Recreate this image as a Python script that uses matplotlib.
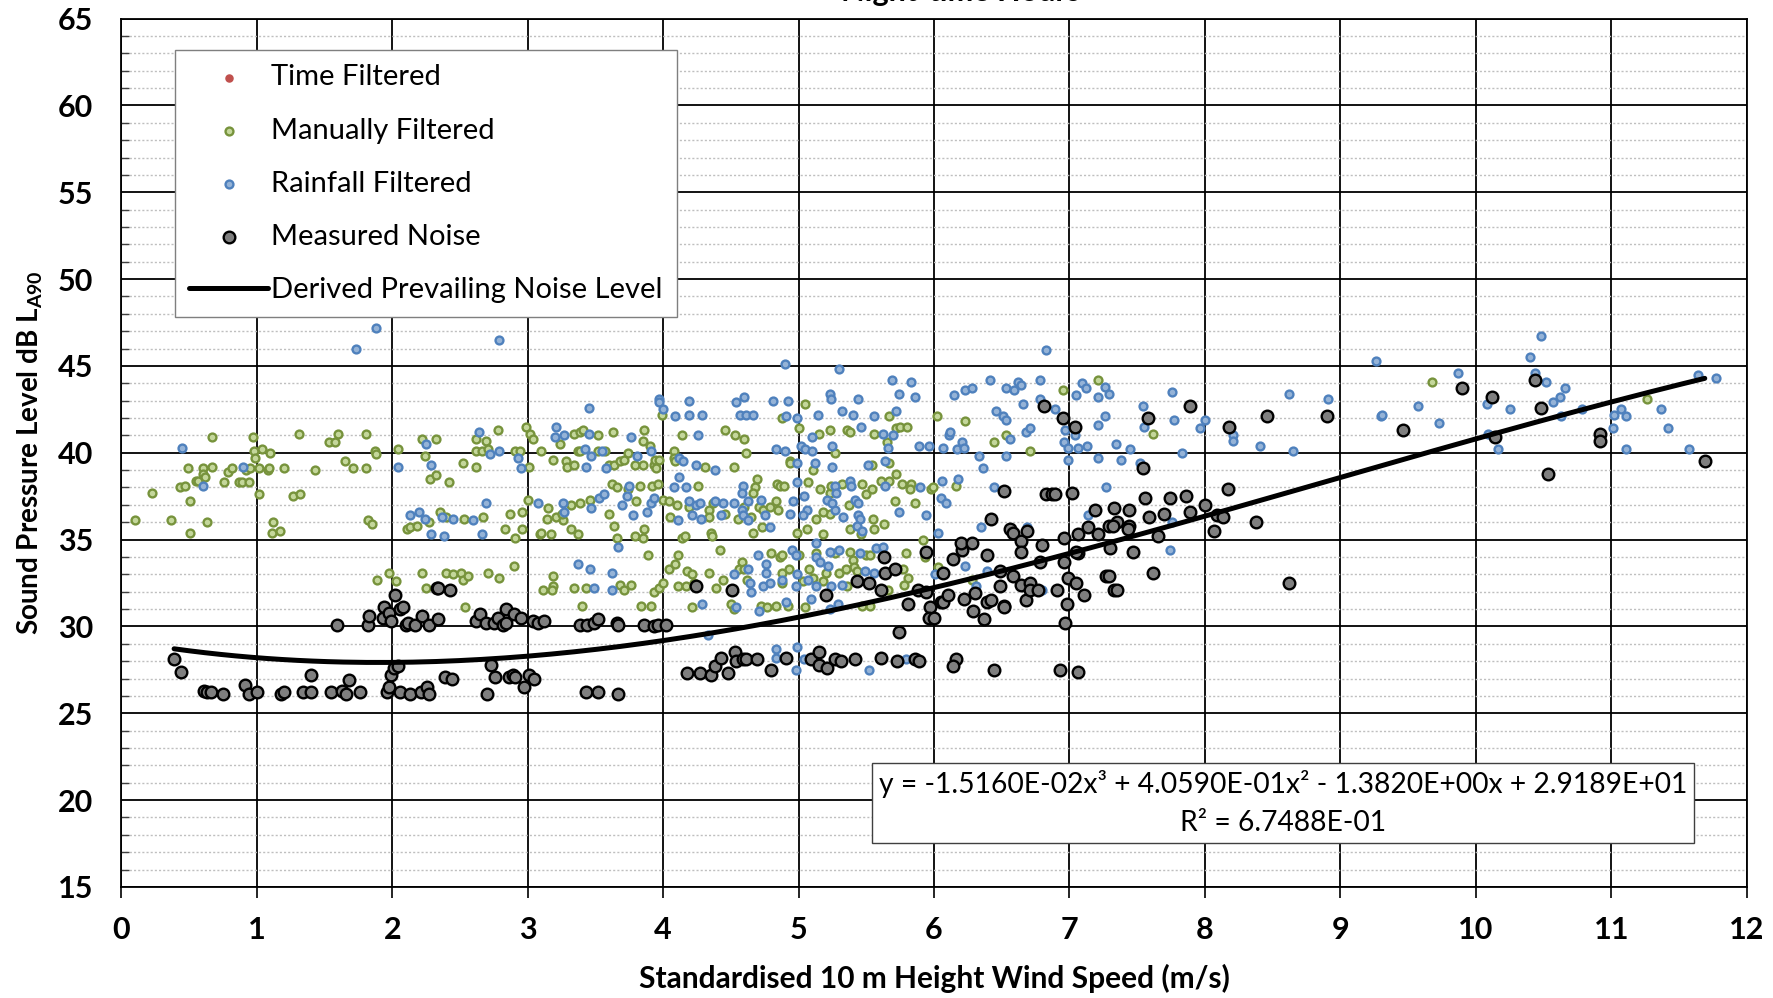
import numpy as np
import matplotlib
matplotlib.use("Agg")
import matplotlib.pyplot as plt
from matplotlib.ticker import MultipleLocator

plt.rcParams["font.family"] = ["Lato", "DejaVu Sans"]
plt.rcParams["mathtext.fontset"] = "custom"
plt.rcParams["mathtext.rm"] = "Lato"
plt.rcParams["mathtext.bf"] = "Lato:bold"

# ---- data ----
manual_x = [
    0.10, 0.23, 0.37, 0.43, 0.47, 0.51, 0.51, 0.49, 0.55, 0.57, 0.60, 0.60, 0.62, 0.63, 0.67, 0.67,
    0.76, 0.79, 0.82, 0.87, 0.89, 0.94, 0.92, 0.95, 0.97, 0.98, 0.99, 1.04, 1.10, 1.02, 1.08, 1.09,
    1.02, 1.12, 1.11, 1.17, 1.20, 1.27, 1.32, 1.31, 1.43, 1.53, 1.58, 1.60, 1.65, 1.71, 1.81, 1.81,
    1.87, 1.88, 1.82, 1.85, 2.04, 2.22, 2.32, 2.24, 2.28, 2.32, 2.42, 2.35, 2.40, 2.11, 2.13, 2.18,
    2.27, 1.89, 1.98, 2.03, 2.22, 2.25, 2.40,
    2.52, 2.62, 2.62, 2.62, 2.69, 2.66, 2.71, 2.78, 2.91, 2.94, 2.99, 3.02, 3.04, 3.01, 3.10, 3.19,
    3.28, 3.29, 3.34, 3.24, 3.34, 3.39, 3.41, 3.37, 3.39, 3.52, 3.52, 3.57, 3.63, 3.60, 3.64, 3.68,
    3.71, 3.74, 3.79, 3.85, 3.86, 3.85, 3.90, 3.93, 3.94, 3.95, 3.97, 3.62, 3.66, 3.74, 3.83, 3.92,
    3.96, 3.80, 3.00, 2.96, 2.87, 2.67, 2.53, 2.83, 2.91, 2.96, 3.09, 3.10, 3.17, 3.15, 3.14, 3.21,
    3.26, 3.25, 3.32, 3.39, 3.46, 3.32, 3.37, 3.60, 3.64, 3.66, 3.79, 3.85, 3.86, 3.89, 2.45, 2.51,
    2.52, 2.56, 2.71, 2.79, 2.90, 2.54, 3.19, 3.19, 3.11, 3.18, 3.34, 3.40, 3.43, 3.68, 3.76, 3.71,
    3.84, 3.91, 3.93, 3.97, 4.00, 4.04, 4.09, 4.11, 4.18, 4.21, 4.21, 4.34, 4.11, 4.17, 4.23, 4.42,
    4.44, 4.39, 4.50, 4.52, 4.58, 4.56, 4.60, 4.62, 4.72, 4.77, 4.83, 4.80, 4.86, 4.08, 4.08, 4.09,
    4.14, 3.99, 4.31, 4.46, 4.53, 4.60, 4.61, 4.52, 4.26, 4.00, 4.04, 4.10, 4.19, 4.05, 4.34, 4.37,
    4.34, 4.35, 4.36, 4.14, 4.16, 4.46, 4.55, 4.60, 4.65, 4.69, 4.68, 4.66, 4.71, 4.74, 4.79, 4.83,
    4.66, 4.73, 4.84,
    5.05, 4.88, 5.00, 5.15, 5.23, 5.36, 5.38, 5.27, 4.94, 4.94, 5.11, 5.56, 5.67, 5.72, 5.75, 5.80,
    5.65, 5.54, 5.67, 6.02, 6.23, 6.44, 6.53, 6.71, 6.95, 7.21, 4.86, 4.89, 4.85, 5.07, 5.16, 5.23,
    5.24, 5.32, 5.47, 5.13, 5.23, 5.18, 4.99, 5.06, 5.18, 5.37, 5.38, 5.50, 5.54, 5.55, 5.56, 5.63,
    5.46, 5.61, 5.67, 5.72, 5.76, 5.83, 5.82, 5.86, 5.71, 5.98, 5.99, 6.16, 5.92, 4.88, 5.00, 5.13,
    5.27, 5.38, 5.50, 5.53, 5.79, 5.93, 5.40, 5.41, 4.88, 4.93, 5.08, 5.20, 5.30, 5.35, 5.43, 5.77,
    5.81, 5.78, 4.88, 5.03, 5.11, 5.18, 5.36, 4.92, 5.05, 5.47, 5.53, 6.03, 6.28, 5.66,
    7.62, 9.68, 11.26,
]
manual_y = [
    36.1, 37.7, 36.1, 38.0, 38.1, 35.4, 37.2, 39.1, 38.4, 38.4, 39.1, 38.8, 38.6, 36.0, 39.2, 40.9,
    38.3, 38.9, 39.1, 38.3, 38.3, 38.3, 39.0, 39.1, 40.9, 40.1, 39.7, 40.2, 40.0, 39.1, 39.0, 39.1,
    37.6, 36.0, 35.4, 35.5, 39.1, 37.5, 37.6, 41.1, 39.0, 40.6, 40.6, 41.1, 39.5, 39.1, 39.1, 41.1,
    40.1, 39.9, 36.1, 35.9, 40.2, 40.8, 40.8, 39.8, 38.5, 38.7, 38.3, 36.6, 36.3, 35.6, 35.7, 35.8,
    36.0, 32.7, 33.1, 32.6, 33.1, 32.2, 33.1,
    39.4, 39.2, 40.1, 40.8, 40.7, 40.1, 40.2, 41.3, 40.1, 40.1, 41.5, 41.1, 40.8, 39.2, 40.1, 39.6,
    39.5, 39.2, 39.3, 40.5, 41.1, 41.2, 41.3, 40.1, 40.1, 41.0, 40.1, 40.1, 41.2, 39.3, 39.3, 39.5,
    39.6, 40.0, 39.3, 39.3, 41.3, 40.7, 40.4, 39.3, 39.6, 39.1, 39.6, 38.2, 38.0, 37.9, 38.1, 38.1,
    38.2, 37.2, 37.3, 36.6, 36.5, 36.3, 36.2, 35.6, 35.1, 35.6, 35.3, 35.4, 35.3, 36.8, 36.2, 36.3,
    36.1, 36.5, 37.0, 37.1, 37.3, 35.6, 35.3, 36.5, 35.8, 35.1, 35.2, 35.1, 35.6, 34.1, 33.0, 33.1,
    32.7, 32.9, 33.1, 32.8, 33.5, 31.1, 32.9, 32.3, 32.1, 32.1, 32.2, 31.2, 32.2, 32.4, 32.4, 32.1,
    31.2, 31.2, 32.0, 32.2, 32.5, 33.3, 33.6, 34.1, 33.2, 33.0, 31.1, 33.1, 32.3, 32.3, 32.5, 34.4,
    32.7, 32.2, 31.3, 31.0, 33.7, 33.3, 33.3, 32.7, 31.2, 31.1, 31.2, 34.2, 34.0, 40.1, 39.7, 39.5,
    41.0, 42.2, 39.2, 41.3, 41.0, 40.8, 40.0, 39.2, 38.1, 37.3, 37.2, 37.0, 36.9, 36.3, 36.7, 37.1,
    36.3, 35.4, 35.2, 35.1, 35.2, 36.5, 36.2, 36.9, 36.3, 38.5, 38.0, 37.7, 36.9, 36.7, 36.9, 37.2,
    35.4, 35.7, 38.2,
    42.8, 42.0, 41.4, 41.1, 41.3, 41.3, 41.2, 40.0, 39.5, 39.4, 39.0, 41.1, 42.1, 41.4, 41.5, 41.5,
    40.6, 39.3, 39.4, 42.1, 41.8, 40.6, 41.0, 40.1, 43.6, 44.2, 38.1, 38.1, 36.7, 38.3, 37.9, 37.7,
    38.1, 38.2, 38.2, 36.2, 36.5, 36.6, 35.4, 35.6, 35.3, 37.0, 35.6, 37.6, 37.9, 36.2, 35.6, 35.9,
    35.3, 38.4, 38.4, 38.8, 38.2, 38.2, 37.9, 37.1, 37.2, 37.9, 38.0, 38.1, 35.0, 34.1, 34.1, 34.2,
    34.2, 34.3, 34.1, 34.1, 34.2, 34.0, 33.8, 33.4, 33.1, 33.3, 33.3, 33.1, 33.1, 33.3, 33.2, 33.3,
    32.8, 32.4, 32.5, 32.6, 32.8, 32.6, 32.3, 31.2, 31.1, 31.2, 31.2, 33.4, 32.7, 32.1,
    41.1, 44.1, 43.1,
]

rain_x = [
    1.88, 1.73, 0.45, 0.90, 0.60, 2.25, 2.04, 2.29, 2.13, 2.20, 2.24, 2.37, 2.29, 2.38,
    2.79, 2.64, 2.72, 2.79, 2.93, 2.95, 2.69, 2.45, 2.60, 2.66, 3.08, 3.21, 3.20, 3.27, 3.45, 3.45,
    3.42, 3.47, 3.43, 3.55, 3.58, 3.26, 3.27, 3.47, 3.53, 3.56, 3.70, 3.73, 3.75, 3.76, 3.81, 3.91,
    3.78, 3.88, 3.91, 3.93, 3.67, 3.37, 3.46, 3.62, 3.49, 3.62, 3.97, 3.97, 4.00, 4.09, 4.19, 4.19,
    4.29, 4.26, 4.54, 4.60, 4.57, 4.61, 4.66, 4.81, 4.83, 4.12, 4.15, 4.24, 4.38, 4.12, 4.08, 4.17,
    4.19, 4.24, 4.27, 4.38, 4.44, 4.52, 4.59, 4.58, 4.63, 4.11, 4.21, 4.28, 4.43, 4.58, 4.59, 4.63,
    4.72, 4.75, 4.79, 4.52, 4.63, 4.70, 4.76, 4.76, 4.64, 4.65, 4.74, 4.79, 4.71, 4.54, 4.29, 4.33,
    4.83, 4.83,
    4.90, 5.30, 4.92, 4.91, 4.99, 5.14, 5.23, 5.24, 5.32, 5.40, 5.44, 5.46, 5.56, 5.62, 5.70, 5.66,
    5.64, 5.72, 5.69, 5.83, 5.74, 5.86, 5.10, 5.02, 5.05, 5.10, 4.90, 4.99, 5.12, 5.25, 5.25, 5.51,
    4.99, 5.04, 4.96, 4.94, 5.06, 5.03, 5.21, 5.27, 5.28, 5.27, 5.33, 5.25, 5.38, 5.39, 5.42, 5.44,
    5.44, 5.45, 5.43, 5.47, 5.64, 5.74, 5.90, 5.94, 6.03, 6.05, 6.09, 6.06, 6.18, 5.13, 4.95, 4.98,
    5.13, 5.23, 5.30, 4.88, 4.99, 5.07, 4.98, 5.13, 5.16, 5.22, 5.24, 5.32, 5.09, 4.91, 5.29, 5.49,
    5.56, 5.57, 5.62, 5.45, 5.23, 4.99, 5.04, 4.98, 5.52, 5.79, 6.23, 6.35, 6.39, 6.31, 6.69, 6.80,
    6.01, 5.89, 5.96, 6.07, 6.11, 6.12, 6.17, 6.21, 6.22, 6.15, 6.23, 6.28, 6.33, 6.36, 6.44, 6.41,
    6.46, 6.51, 6.53, 6.53, 6.59, 6.62, 6.64, 6.56, 6.53, 6.66, 6.78, 6.78, 6.68, 6.71, 6.83, 6.89,
    6.96, 6.97, 6.99, 7.04, 7.06, 7.13, 6.99, 7.05, 7.09, 7.12, 7.21, 7.26, 7.21, 7.26, 7.21, 7.27,
    7.14,
    7.29, 7.54, 7.55, 7.76, 7.77, 7.96, 8.00, 7.34, 7.45, 7.38, 7.52, 7.83, 7.76, 7.74, 8.21, 8.21,
    8.41, 8.62, 8.65, 8.91, 9.26, 9.30, 9.31, 9.57, 9.73,
    9.87, 10.48, 10.40, 10.44, 10.52, 10.66, 10.62, 10.57, 10.63, 10.78, 10.08, 10.25, 10.09, 10.16,
    11.02, 11.07, 11.11, 11.01, 11.11, 11.37, 11.42, 11.57, 11.64, 11.77,
]
rain_y = [
    47.2, 46.0, 40.3, 39.2, 38.1, 40.5, 39.2, 39.3, 36.4, 36.6, 36.2, 36.3, 35.3, 35.2,
    46.5, 41.2, 39.9, 40.1, 39.7, 39.1, 37.1, 36.2, 36.1, 35.3, 37.1, 41.5, 40.9, 41.0, 42.6, 41.1,
    40.2, 39.8, 39.2, 40.1, 39.1, 37.1, 36.6, 36.8, 37.4, 37.6, 37.0, 37.5, 38.1, 40.9, 39.8, 40.1,
    36.4, 36.6, 37.1, 37.4, 34.6, 33.6, 33.3, 33.1, 32.2, 32.1, 43.1, 42.9, 42.5, 42.1, 43.0, 42.2,
    42.2, 41.0, 42.9, 43.2, 42.2, 42.2, 42.2, 43.0, 40.2, 39.7, 39.5, 39.3, 39.0, 38.6, 38.0, 38.0,
    37.2, 37.0, 37.1, 37.2, 37.1, 37.1, 38.1, 37.7, 37.2, 36.1, 36.4, 36.2, 36.4, 36.7, 36.4, 36.1,
    37.3, 36.4, 35.7, 33.0, 33.3, 34.1, 33.6, 33.1, 32.5, 32.0, 32.3, 32.5, 30.9, 31.1, 31.3, 29.5,
    28.7, 28.2,
    45.1, 44.8, 43.0, 42.1, 42.0, 42.2, 43.4, 43.1, 42.4, 42.2, 43.1, 41.5, 42.1, 41.1, 41.0, 40.3,
    39.5, 42.4, 44.2, 44.1, 43.4, 43.2, 40.9, 40.4, 40.2, 40.1, 40.1, 39.4, 39.4, 40.4, 39.2, 39.3,
    38.3, 37.5, 37.2, 36.5, 36.7, 36.4, 37.3, 38.1, 37.7, 36.7, 36.3, 37.1, 38.4, 38.1, 37.3, 37.1,
    36.4, 36.2, 35.8, 35.5, 38.1, 36.6, 38.0, 36.4, 35.4, 37.4, 37.1, 38.4, 38.5, 34.8, 34.4, 34.1,
    34.0, 34.3, 34.4, 32.7, 33.0, 32.7, 32.3, 32.3, 33.7, 33.5, 32.3, 32.4, 31.6, 31.4, 31.3, 33.2,
    33.1, 34.5, 34.6, 34.2, 31.0, 28.8, 28.1, 27.5, 27.5, 28.1, 33.5, 35.7, 33.2, 32.3, 35.7, 32.1,
    33.0, 40.4, 40.4, 40.3, 41.0, 41.2, 40.2, 40.6, 40.3, 43.3, 43.6, 43.7, 39.8, 39.1, 38.0, 44.2,
    42.4, 42.1, 41.9, 43.7, 43.6, 44.1, 43.9, 40.8, 39.8, 42.8, 44.2, 43.1, 41.2, 41.4, 45.9, 42.5,
    40.6, 41.3, 40.3, 41.0, 40.3, 40.4, 39.6, 43.3, 44.0, 43.7, 43.2, 43.8, 41.6, 42.1, 39.7, 38.0,
    36.4,
    43.4, 42.7, 41.5, 43.5, 41.9, 41.4, 41.9, 40.5, 40.2, 39.6, 39.4, 40.0, 36.0, 34.4, 41.0, 40.7,
    40.4, 43.4, 40.1, 43.1, 45.3, 42.1, 42.2, 42.7, 41.7,
    44.6, 46.7, 45.5, 44.6, 44.1, 43.7, 43.2, 42.9, 42.1, 42.5, 42.8, 42.5, 41.1, 40.2,
    42.2, 42.5, 42.1, 41.4, 40.2, 42.5, 41.4, 40.2, 44.5, 44.3,
]

measured_x = [
    0.39, 0.44, 0.61, 0.63, 0.66, 0.75, 0.91, 0.94, 1.00, 1.18, 1.20, 1.34, 1.40, 1.40, 1.55, 1.63,
    1.66, 1.68, 1.76, 1.96, 1.98, 1.99, 2.01, 2.04, 2.06, 2.13, 2.21, 2.26, 2.27, 2.39, 2.44, 1.59,
    1.82, 1.83, 1.94, 1.93, 1.98, 1.99, 2.02, 2.06, 2.08, 2.10, 2.12, 2.17, 2.22, 2.27, 2.34, 2.33,
    2.34, 2.43,
    2.62, 2.65, 2.69, 2.75, 2.78, 2.82, 2.84, 2.84, 2.90, 2.95, 3.04, 3.08, 3.12, 3.39, 3.44, 3.49,
    3.52, 3.66, 3.67, 3.86, 3.93, 3.96, 4.02, 2.73, 2.76, 2.70, 2.86, 2.89, 2.91, 2.97, 3.01, 3.05,
    3.43, 3.52, 3.67, 4.18, 4.27, 4.35, 4.38, 4.43, 4.48, 4.53, 4.54, 4.59, 4.61, 4.69, 4.80, 4.24,
    4.51,
    5.20, 5.43, 5.52, 5.63, 5.64, 5.71, 5.61, 5.81, 5.74, 5.94, 5.88, 5.94, 5.97, 5.96, 6.00, 6.05,
    6.07, 6.07, 6.10, 6.14, 6.21, 6.20, 6.28, 6.22, 6.30, 6.29, 6.37, 6.39, 6.42, 6.52, 6.39, 6.42,
    6.49, 6.49, 6.52, 6.52, 6.58, 6.56, 6.58, 6.64, 6.64, 6.69, 6.64, 6.68, 6.71, 6.71, 6.77, 6.80,
    6.78, 6.81, 6.95, 7.04, 6.83, 6.87, 6.89, 7.02, 6.91, 6.96, 6.96, 6.98, 6.97, 6.99, 7.05, 7.06,
    7.06, 7.05, 7.11, 7.14, 7.19, 7.21, 7.29, 7.27, 4.91, 5.09, 5.15, 5.15, 5.21, 5.27, 5.31, 5.42,
    5.61, 5.73, 5.86, 5.89, 6.16, 6.14, 6.44, 6.93, 7.06,
    7.58, 7.89, 7.54, 7.56, 7.74, 7.86, 7.33, 7.44, 7.35, 7.32, 7.44, 7.43, 7.59, 7.70, 7.89, 7.65,
    8.00, 7.30, 7.47, 7.29, 7.33, 7.35, 7.62, 8.18, 8.46, 8.90, 8.17, 8.09, 8.13, 8.07, 8.38, 8.62,
    9.46, 9.90, 10.12, 10.44, 10.48, 10.14, 10.53, 10.92, 10.92, 11.69,
]
measured_y = [
    28.1, 27.4, 26.3, 26.2, 26.2, 26.1, 26.6, 26.1, 26.2, 26.1, 26.2, 26.2, 26.2, 27.2, 26.2, 26.3,
    26.1, 26.9, 26.2, 26.2, 26.5, 27.2, 27.6, 27.7, 26.2, 26.1, 26.2, 26.5, 26.1, 27.1, 27.0, 30.1,
    30.1, 30.6, 31.1, 30.5, 30.8, 30.3, 31.8, 31.0, 31.1, 30.1, 30.2, 30.1, 30.6, 30.1, 30.4, 32.2,
    32.2, 32.1,
    30.3, 30.7, 30.2, 30.2, 30.5, 30.1, 31.0, 30.2, 30.7, 30.5, 30.3, 30.2, 30.3, 30.1, 30.1, 30.2,
    30.4, 30.2, 30.1, 30.1, 30.0, 30.1, 30.1, 27.8, 27.1, 26.1, 27.1, 27.2, 27.1, 26.5, 27.2, 27.0,
    26.2, 26.2, 26.1, 27.3, 27.3, 27.2, 27.7, 28.2, 27.3, 28.5, 28.0, 28.1, 28.1, 28.1, 27.5, 32.3,
    32.1,
    31.8, 32.6, 32.5, 34.0, 33.1, 33.3, 32.1, 31.3, 29.7, 34.3, 32.1, 32.0, 31.1, 30.5, 30.5, 31.4,
    31.4, 33.1, 31.8, 33.9, 34.4, 34.8, 34.8, 31.6, 31.9, 30.9, 30.4, 34.1, 36.2, 37.8, 31.4, 31.5,
    32.3, 33.2, 31.2, 31.1, 32.9, 35.6, 35.4, 34.9, 34.3, 35.5, 32.4, 31.5, 32.5, 32.1, 32.1, 34.7,
    33.7, 42.7, 42.0, 41.5, 37.6, 37.6, 37.6, 37.7, 32.1, 33.7, 35.1, 31.3, 30.2, 32.8, 32.5, 35.3,
    34.2, 34.3, 31.8, 35.7, 36.7, 35.3, 35.8, 32.9, 28.2, 28.1, 28.5, 27.8, 27.6, 28.1, 28.0, 28.1,
    28.2, 28.0, 28.1, 28.0, 28.1, 27.7, 27.5, 27.5, 27.4,
    42.0, 42.7, 39.1, 37.4, 37.4, 37.5, 36.8, 36.7, 36.0, 35.8, 35.8, 35.6, 36.3, 36.5, 36.6, 35.2,
    37.0, 34.5, 34.3, 32.9, 32.1, 32.1, 33.1, 41.5, 42.1, 42.1, 37.9, 36.4, 36.3, 35.5, 36.0, 32.5,
    41.3, 43.7, 43.2, 44.2, 42.6, 40.9, 38.8, 41.1, 40.7, 39.5,
]

# trend line as printed on the chart: y = a x^3 + b x^2 + c x + d
trend_coeffs = [-1.5160e-02, 4.0590e-01, -1.3820e00, 2.9189e01]
equation_text = ("y = -1.5160E-02x³ + 4.0590E-01x² - 1.3820E+00x + 2.9189E+01\n"
                 "R² = 6.7488E-01")

# ---- figure ----
fig = plt.figure(figsize=(17.73, 9.98), dpi=100)
ax = fig.add_axes([0.0684, 0.1113, 0.9168, 0.8701])

ax.scatter([], [], s=26, c="#c0504d", edgecolors="#c0504d", linewidths=1.0,
           label="Time Filtered")
ax.scatter(manual_x, manual_y, s=32, c="#c4d79b", edgecolors="#77933c",
           linewidths=1.7, label="Manually Filtered", zorder=3)
ax.scatter(rain_x, rain_y, s=32, c="#95b3d7", edgecolors="#4f81bd",
           linewidths=1.7, label="Rainfall Filtered", zorder=4)
ax.scatter(measured_x, measured_y, s=70, c="#7f7f7f", edgecolors="black",
           linewidths=1.7, label="Measured Noise", zorder=5)

fit_x = np.linspace(min(measured_x), max(measured_x), 200)
fit_y = np.polyval(trend_coeffs, fit_x)
ax.plot(fit_x, fit_y, color="black", lw=3.6, solid_capstyle="round", zorder=6,
        label="Derived Prevailing Noise Level")

ax.set_xlim(0, 12)
ax.set_ylim(15, 65)
ax.xaxis.set_major_locator(MultipleLocator(1))
ax.yaxis.set_major_locator(MultipleLocator(5))
ax.yaxis.set_minor_locator(MultipleLocator(1))

ax.grid(True, which="major", color="black", lw=1.3, zorder=0)
ax.grid(True, which="minor", axis="y", color="#bfbfbf", lw=1.0,
        linestyle=(0, (1.5, 1.5)), zorder=0)
ax.set_axisbelow(True)
for sp in ax.spines.values():
    sp.set_color("black")
    sp.set_linewidth(1.3)

ax.tick_params(axis="x", which="major", direction="out", length=8, width=1.2,
               labelsize=22, pad=13)
ax.tick_params(axis="y", which="major", length=0, labelsize=22, pad=20)
ax.tick_params(axis="y", which="minor", direction="in", length=6, width=1.0,
               color="#404040")
for lab in ax.get_xticklabels() + ax.get_yticklabels():
    lab.set_fontweight("bold")

ax.set_xlabel("Standardised 10 m Height Wind Speed (m/s)", fontsize=21.5,
              fontweight="bold", labelpad=14)
ax.set_ylabel(r"Sound Pressure Level dB $\mathbf{L_{A90}}$", fontsize=20,
              fontweight="bold", labelpad=9)

fig.text(0.542, 1.0 - 1.5 / 998, "Night-time Hours", ha="center", va="baseline",
         fontsize=22, fontweight="bold")

handles, labels = ax.get_legend_handles_labels()
order = [labels.index(n) for n in ["Time Filtered", "Manually Filtered",
                                   "Rainfall Filtered", "Measured Noise",
                                   "Derived Prevailing Noise Level"]]
leg = ax.legend([handles[i] for i in order], [labels[i] for i in order],
                loc="upper left", bbox_to_anchor=(0.033, 0.964), fontsize=21,
                frameon=True, fancybox=False, framealpha=1, edgecolor="#7f7f7f",
                handlelength=2.7, handletextpad=0.1, labelspacing=0.93,
                borderpad=0.5, borderaxespad=0)
leg.get_frame().set_linewidth(1.0)
leg.set_zorder(10)

ax.text(0.7147, 0.0966, equation_text, transform=ax.transAxes, ha="center",
        va="center", fontsize=20.3, linespacing=1.55, zorder=10,
        bbox=dict(boxstyle="square,pad=0.25", facecolor="white",
                  edgecolor="#404040", linewidth=1.0))

fig.savefig("out.png", dpi=100)
